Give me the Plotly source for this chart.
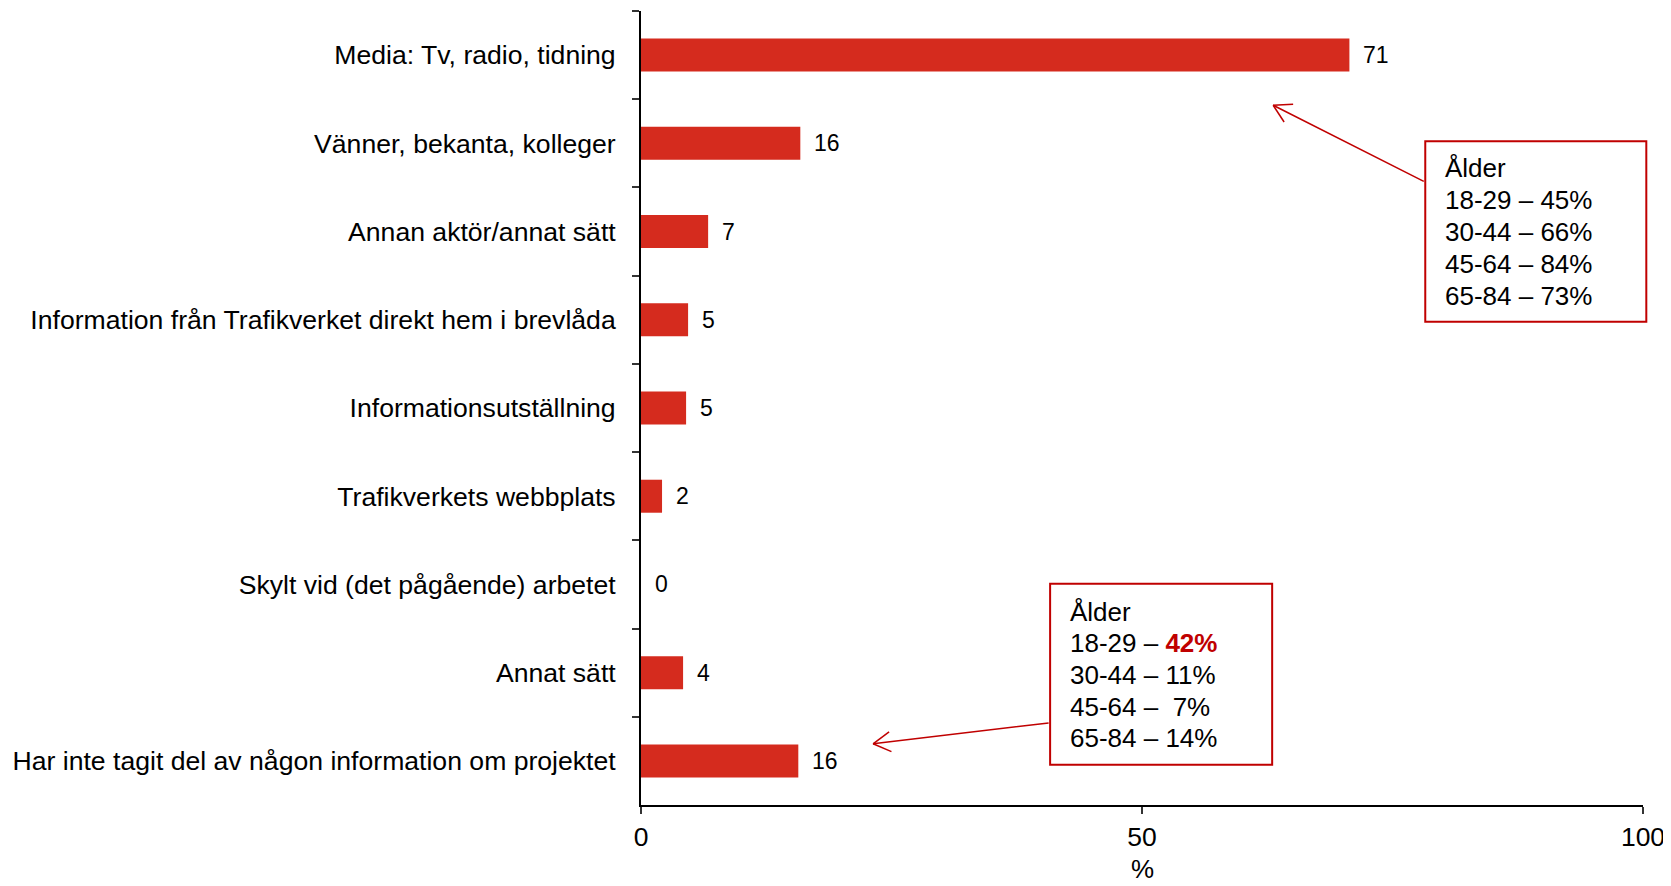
import numpy as np
import plotly.graph_objects as go

categories = [
    "Media: Tv, radio, tidning",
    "Vänner, bekanta, kolleger",
    "Annan aktör/annat sätt",
    "Information från Trafikverket direkt hem i brevlåda",
    "Informationsutställning",
    "Trafikverkets webbplats",
    "Skylt vid (det pågående) arbetet",
    "Annat sätt",
    "Har inte tagit del av någon information om projektet",
]
values = [70.7, 15.9, 6.7, 4.7, 4.5, 2.1, 0.0, 4.2, 15.7]
value_labels = ["71", "16", "7", "5", "5", "2", "0", "4", "16"]
x_ticks = [0, 50, 100]
x_title = "%"

box1_lines = ["Ålder", "18-29 – 45%", "30-44 – 66%", "45-64 – 84%", "65-84 – 73%"]
box2_lines = ["Ålder", "18-29 – <span style='color:#C00000'><b>42%</b></span>",
              "30-44 – 11%", "45-64 –\u00a0 7%", "65-84 – 14%"]

FONT = "Liberation Sans, Arial, sans-serif"
BAR = "#D52B1E"
DARKRED = "#C00000"

# figure geometry (page body adds an 8px offset)
W, H = 1663, 878
ML, MR, MT, MB = 633, 28, 3, 81
PW, PH = W - ML - MR, H - MT - MB

fig = go.Figure()
fig.add_trace(go.Bar(
    x=values, y=categories, orientation="h",
    marker=dict(color=BAR, line=dict(width=0)),
    hoverinfo="skip",
))

annotations = []
for v, lab, cat in zip(values, value_labels, categories):
    annotations.append(dict(
        x=v, y=cat, xref="x", yref="y", text=lab, showarrow=False,
        xanchor="left", yanchor="middle", xshift=12,
        font=dict(family=FONT, size=23, color="black"),
    ))

# x-axis title placed below the tick labels
annotations.append(dict(
    x=0.5, y=0, xref="x domain", yref="y domain", text=x_title, showarrow=False,
    xanchor="center", yanchor="middle", yshift=-64,
    font=dict(family=FONT, size=26, color="black"),
))

# box texts, one annotation per line
box1_x, box1_ys = 0.8006, [0.8020, 0.7614, 0.7211, 0.6808, 0.6406]
box2_x, box2_ys = 0.4263, [0.2429, 0.2039, 0.1640, 0.1236, 0.0846]
for lines, bx, bys in [(box1_lines, box1_x, box1_ys), (box2_lines, box2_x, box2_ys)]:
    for line, by in zip(lines, bys):
        annotations.append(dict(
            x=bx, y=by, xref="x domain", yref="y domain",
            text=line, showarrow=False, align="left",
            xanchor="left", yanchor="middle",
            font=dict(family=FONT, size=26, color="black"),
        ))

shapes = [
    dict(type="rect", xref="x domain", yref="y domain",
         x0=0.7827, x1=1.0033, y0=0.6086, y1=0.8360,
         line=dict(color=DARKRED, width=2), fillcolor="white", layer="above"),
    dict(type="rect", xref="x domain", yref="y domain",
         x0=0.4083, x1=0.6299, y0=0.0507, y1=0.2785,
         line=dict(color=DARKRED, width=2), fillcolor="white", layer="above"),
]

# arrows: shaft via annotation, open head via two thin lines
arrows = [(0.6309, 0.8813, 0.7827, 0.7844), (0.2316, 0.0771, 0.4083, 0.1036)]
for (tx, ty, sx, sy) in arrows:
    annotations.append(dict(
        x=tx, y=ty, xref="x domain", yref="y domain",
        ax=sx, ay=sy, axref="x domain", ayref="y domain",
        text="", showarrow=True, arrowhead=0, arrowwidth=1.5,
        arrowcolor=DARKRED, standoff=0, startstandoff=0,
    ))
    back = np.array([(sx - tx) * PW, (sy - ty) * PH])
    back = back / np.linalg.norm(back)
    for ang in (np.radians(30), -np.radians(30)):
        rot = np.array([[np.cos(ang), -np.sin(ang)], [np.sin(ang), np.cos(ang)]])
        d = rot @ back * 20
        shapes.append(dict(
            type="line", xref="paper", yref="paper",
            xsizemode="pixel", ysizemode="pixel", xanchor=tx, yanchor=ty,
            x0=0, y0=0, x1=float(d[0]), y1=float(d[1]),
            line=dict(color=DARKRED, width=1.5), layer="above",
        ))

fig.update_layout(
    width=W, height=H,
    margin=dict(l=ML, r=MR, t=MT, b=MB, autoexpand=False),
    plot_bgcolor="white", paper_bgcolor="white",
    showlegend=False, bargap=0.626,
    annotations=annotations, shapes=shapes,
    font=dict(family=FONT, size=26, color="black"),
)
fig.update_xaxes(
    range=[0, 100], tickvals=x_ticks, ticktext=[str(t) for t in x_ticks],
    showgrid=False, zeroline=False, automargin=False, ticklabeloverflow="allow",
    showline=True, linecolor="black", linewidth=2,
    ticks="outside", ticklen=7, tickwidth=1.5, tickcolor="#333333",
    tickfont=dict(family=FONT, size=26.5, color="black"),
)
fig.update_yaxes(
    type="category", categoryorder="array", categoryarray=categories,
    range=[len(categories) - 0.5, -0.5],
    showgrid=False, zeroline=False, automargin=False,
    showline=True, linecolor="black", linewidth=2,
    ticks="outside", tickson="boundaries", ticklen=7, tickwidth=1.5, tickcolor="#333333",
    tickfont=dict(family=FONT, size=26.6, color="black"),
    ticklabelstandoff=18,
)

fig.write_html("out.html")
